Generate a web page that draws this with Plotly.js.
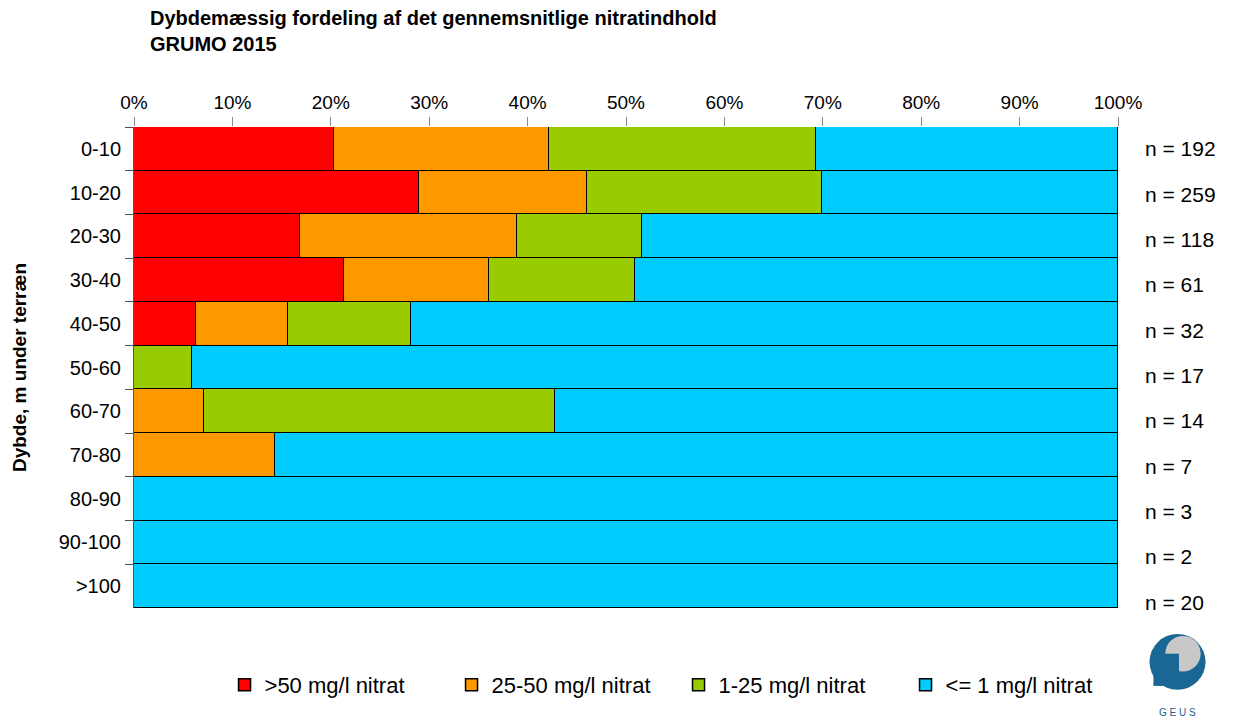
<!DOCTYPE html>
<html>
<head>
<meta charset="utf-8">
<script src="https://cdn.plot.ly/plotly-3.0.1.min.js"></script>
<style>
  body { margin: 0; background: #fff; }
  #chart { width: 1243px; height: 722px; }
</style>
</head>
<body>
<div id="chart"></div>
<script>
// depth intervals, top to bottom
const depths = ['0-10', '10-20', '20-30', '30-40', '40-50', '50-60', '60-70', '70-80', '80-90', '90-100', '>100'];
const counts = [192, 259, 118, 61, 32, 17, 14, 7, 3, 2, 20];

// share of wells (%) per nitrate class
const over50 = [20.3, 29.0, 16.9, 21.3, 6.3, 0, 0, 0, 0, 0, 0];
const from25to50 = [21.9, 17.0, 22.0, 14.8, 9.4, 0, 7.1, 14.3, 0, 0, 0];
const from1to25 = [27.1, 23.9, 12.7, 14.8, 12.5, 5.9, 35.7, 0, 0, 0, 0];
const upTo1 = [30.7, 30.1, 48.4, 49.1, 71.8, 94.1, 57.2, 85.7, 100, 100, 100];

const seriesNames = ['>50 mg/l nitrat', '25-50 mg/l nitrat', '1-25 mg/l nitrat', '<= 1 mg/l nitrat'];
const seriesColors = ['#ff0000', '#ff9900', '#99cc00', '#00ccff'];
const seriesValues = [over50, from25to50, from1to25, upTo1];

const font = "Arial, 'Liberation Sans', sans-serif";

const data = seriesValues.map((vals, i) => ({
    type: 'bar',
    orientation: 'h',
    x: vals,
    y: depths,
    name: seriesNames[i],
    marker: { color: seriesColors[i], line: { color: '#000', width: 1.5 } },
    hoverinfo: 'x+name'
}));

// n labels to the right of each bar
const annotations = depths.map((d, i) => ({
    xref: 'paper', yref: 'y',
    x: 1.025, y: d,
    xanchor: 'left', yanchor: 'middle',
    yshift: -i * 1.6,
    text: 'n = ' + counts[i],
    showarrow: false,
    font: { family: font, size: 21, color: '#000' }
}));

annotations.push({
    xref: 'paper', yref: 'paper', x: 1.060, y: -0.218,
    xanchor: 'center', yanchor: 'middle',
    text: 'G E U S', showarrow: false,
    font: { family: font, size: 10, color: '#1a5f8a' }
});

const layout = {
    width: 1243,
    height: 722,
    margin: { l: 134, r: 125, t: 127, b: 114 },
    paper_bgcolor: '#fff',
    plot_bgcolor: '#fff',
    barmode: 'stack',
    bargap: 0,
    showlegend: true,
    font: { family: font, color: '#000' },
    title: {
        text: '<b>Dybdemæssig fordeling af det gennemsnitlige nitratindhold<br>GRUMO 2015</b>',
        x: 0, xref: 'paper', xanchor: 'left',
        y: 0.965, yanchor: 'top',
        pad: { l: 16 },
        font: { family: font, size: 20, color: '#000' }
    },
    xaxis: {
        side: 'top',
        range: [0, 100],
        dtick: 10,
        ticksuffix: '%',
        ticks: 'outside',
        ticklen: 9,
        tickcolor: '#888',
        showgrid: false,
        zeroline: false,
        showline: false,
        fixedrange: true,
        tickfont: { family: font, size: 19, color: '#000' }
    },
    yaxis: {
        type: 'category',
        autorange: 'reversed',
        ticks: 'outside',
        tickson: 'boundaries',
        ticklen: 8,
        ticklabelstandoff: 8,
        tickcolor: '#555',
        showline: true,
        linecolor: '#555',
        linewidth: 1,
        showgrid: false,
        fixedrange: true,
        tickfont: { family: font, size: 20, color: '#000' },
        title: {
            text: '<b>Dybde, m under terræn</b>',
            standoff: 27,
            font: { family: font, size: 19, color: '#000' }
        }
    },
    legend: {
        orientation: 'h',
        x: 0.092, xanchor: 'left',
        y: -0.16, yanchor: 'middle',
        traceorder: 'normal',
        font: { family: font, size: 22, color: '#000' },
        itemwidth: 30,
        entrywidth: 182,
        entrywidthmode: 'pixels'
    },
    annotations: annotations,
    shapes: [
        // GEUS logo, rough
        { type: 'circle', xref: 'paper', yref: 'paper', x0: 1.032, x1: 1.089, y0: -0.17, y1: -0.054,
          fillcolor: '#1a6694', line: { width: 0 } },
        { type: 'circle', xref: 'paper', yref: 'paper', x0: 1.048, x1: 1.084, y0: -0.132, y1: -0.058,
          fillcolor: '#c8c8c8', line: { width: 0 } },
        { type: 'rect', xref: 'paper', yref: 'paper', x0: 1.036, x1: 1.062, y0: -0.162, y1: -0.095,
          fillcolor: '#1a6694', line: { width: 0 } }
    ]
};

Plotly.newPlot('chart', data, layout, { displayModeBar: false });
</script>
</body>
</html>
